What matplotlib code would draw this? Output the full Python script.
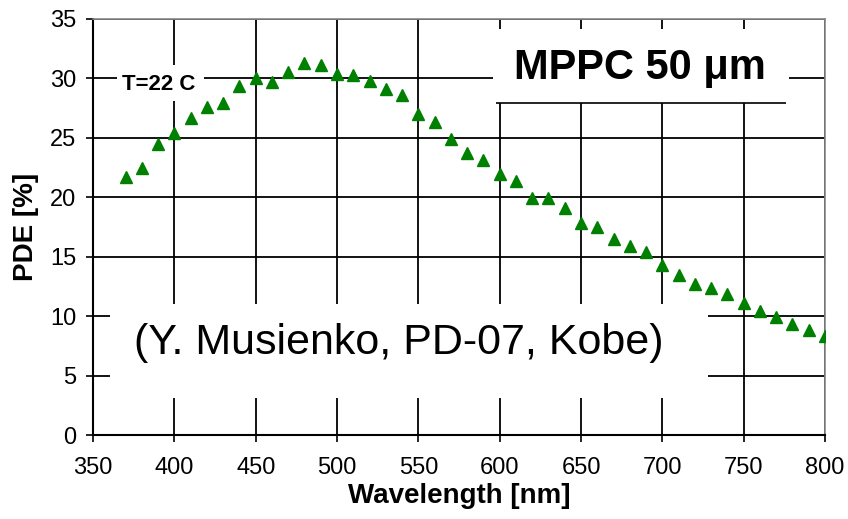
import matplotlib.pyplot as plt
from matplotlib.patches import Rectangle

plt.rcParams['font.family'] = ['Liberation Sans', 'DejaVu Sans']

wavelength = [370, 380, 390, 400, 410, 420, 430, 440, 450, 460,
              470, 480, 490, 500, 510, 520, 530, 540, 550, 560,
              570, 580, 590, 600, 610, 620, 630, 640, 650, 660,
              670, 680, 690, 700, 710, 720, 730, 740, 750, 760,
              770, 780, 790, 800]
pde = [21.7, 22.5, 24.5, 25.4, 26.7, 27.6, 27.9, 29.4, 30.0, 29.7,
       30.5, 31.3, 31.1, 30.4, 30.3, 29.8, 29.1, 28.6, 27.0, 26.3,
       24.9, 23.7, 23.1, 22.0, 21.4, 19.9, 19.9, 19.1, 17.8, 17.5,
       16.5, 15.9, 15.4, 14.3, 13.5, 12.7, 12.4, 11.9, 11.1, 10.4,
       9.9, 9.3, 8.8, 8.3]

xticks = list(range(350, 801, 50))
yticks = list(range(0, 36, 5))

fig = plt.figure(figsize=(8.48, 5.19), dpi=100)
ax = fig.add_axes([0.1097, 0.1618, 0.8632, 0.8016])

ax.plot(wavelength, pde, linestyle='none', marker='^', color='#008000',
        markersize=8.5, zorder=3)

ax.set_xlim(350, 800)
ax.set_ylim(0, 35)
ax.set_xticks(xticks)
ax.set_yticks(yticks)
ax.tick_params(direction='out', length=5, width=1.2, labelsize=17)
ax.tick_params(axis='x', pad=11)
ax.tick_params(axis='y', pad=7)
ax.set_axisbelow(True)
ax.grid(True, color='black', linewidth=1.3)

for side in ('left', 'bottom'):
    ax.spines[side].set_color('black')
    ax.spines[side].set_linewidth(1.5)
for side in ('top', 'right'):
    ax.spines[side].set_color('#888888')
    ax.spines[side].set_linewidth(1.2)

ax.set_xlabel('Wavelength [nm]', fontsize=20, fontweight='bold', labelpad=3)
ax.set_ylabel('PDE [%]', fontsize=20, fontweight='bold', labelpad=8)

# white label boxes that hide the grid
ax.add_patch(Rectangle((365, 28.1), 53, 3.0, facecolor='white',
                       edgecolor='none', zorder=1))
ax.add_patch(Rectangle((596, 27.9), 182, 6.3, facecolor='white',
                       edgecolor='none', zorder=1))
ax.add_patch(Rectangle((360.5, 3.1), 367.5, 7.9, facecolor='white',
                       edgecolor='none', zorder=1))
ax.hlines(27.9, 598, 776, color='black', linewidth=1.2, zorder=2)

ax.text(368, 29.5, 'T=22 C', fontsize=16, fontweight='bold',
        va='center', ha='left', zorder=4)
ax.text(686, 30.9, 'MPPC 50 \u03bcm', fontsize=30, fontweight='bold',
        va='center', ha='center', zorder=4)
ax.text(538, 7.7, '(Y. Musienko, PD-07, Kobe)', fontsize=31,
        va='center', ha='center', zorder=4)

fig.savefig('out.png', dpi=100)
